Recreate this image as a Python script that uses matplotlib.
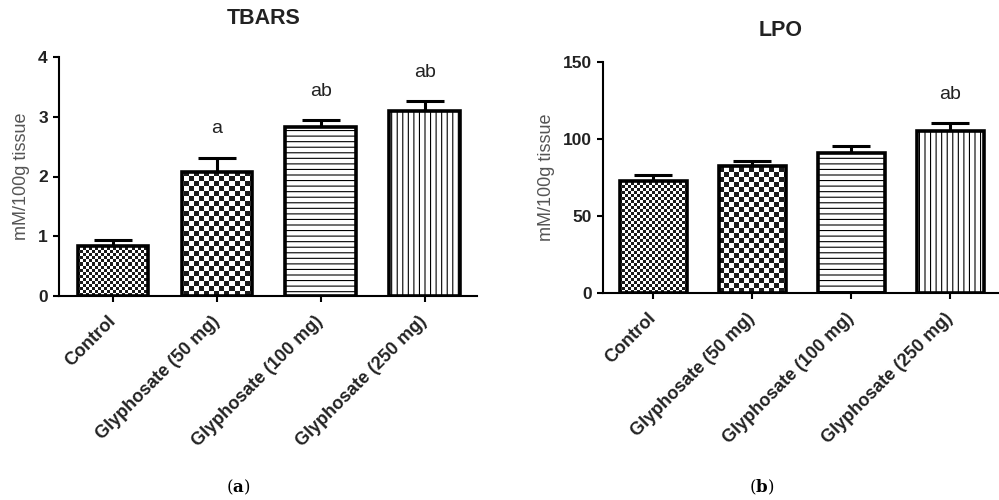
import numpy as np
import matplotlib
matplotlib.use("Agg")
import matplotlib.pyplot as plt
from matplotlib.colors import ListedColormap

# --- data ---
groups = ["Control", "Glyphosate (50 mg)", "Glyphosate (100 mg)", "Glyphosate (250 mg)"]

tbars_mean = [0.84, 2.07, 2.83, 3.09]
tbars_sem = [0.10, 0.24, 0.11, 0.17]
tbars_sig = ["", "a", "ab", "ab"]

lpo_mean = [72.7, 82.5, 90.9, 105.5]
lpo_sem = [3.9, 3.2, 4.5, 4.6]
lpo_sig = ["", "", "", "ab"]

# fill per group: checker cell size in px, or a hatch string
FILLS = [("checker", 3), ("checker", 5), ("hatch", "---"), ("hatch", "|||")]

plt.rcParams.update({
    "font.family": ["Liberation Sans", "DejaVu Sans"],
    "mathtext.fontset": "dejavuserif",
    "hatch.linewidth": 0.8,
    "axes.linewidth": 1.5,
    "xtick.major.width": 1.5,
    "ytick.major.width": 1.5,
    "xtick.major.size": 4.5,
    "ytick.major.size": 4.5,
})

CHECK_CMAP = ListedColormap(["white", "#1a1a1a"])


def checker(ax, cell):
    bb = ax.get_window_extent()
    w, h = int(round(bb.width)), int(round(bb.height))
    yy, xx = np.mgrid[0:h, 0:w]
    return (xx // cell + yy // cell) % 2


def panel(ax, means, sems, sig, title, ylim, yticks, xlim, title_x, title_pad):
    x = np.arange(len(groups))
    ax.errorbar(x, means, yerr=[np.zeros(len(sems)), sems], fmt="none",
                ecolor="black", elinewidth=2.2, capsize=13.5, capthick=2.2, zorder=1)
    bars = ax.bar(x, means, width=0.68, edgecolor="black", linewidth=2.6,
                  facecolor="white", zorder=3)
    for bar, (kind, spec) in zip(bars, FILLS):
        if kind == "hatch":
            bar.set_hatch(spec)
        else:
            bar.set_facecolor("none")
            im = ax.imshow(checker(ax, spec), cmap=CHECK_CMAP, interpolation="nearest",
                           extent=(0, 1, 0, 1), transform=ax.transAxes,
                           aspect="auto", zorder=2, origin="lower")
            im.set_clip_path(bar)

    for xi, m, s, lab in zip(x, means, sems, sig):
        if lab:
            ax.annotate(lab, xy=(xi, m + s), xytext=(0, 21), textcoords="offset points",
                        ha="center", va="center", fontsize=14, color="#222222")

    ax.set_xlim(*xlim)
    ax.set_ylim(*ylim)
    ax.set_yticks(yticks)
    ax.set_xticks(x)
    ax.set_xticklabels(groups, rotation=45, ha="right", va="center",
                       rotation_mode="anchor", fontsize=13, fontweight="bold",
                       color="#222222")
    ax.tick_params(axis="x", pad=12)
    ax.tick_params(axis="y", labelsize=12.5)
    for t in ax.get_yticklabels():
        t.set_fontweight("bold")
        t.set_color("#222222")
    ax.spines["top"].set_visible(False)
    ax.spines["right"].set_visible(False)
    ax.set_ylabel("mM/100g tissue", fontsize=13, color="#555555", labelpad=6)
    ax.set_title(title, fontsize=15.5, fontweight="bold", color="#222222",
                 x=title_x, pad=title_pad)


fig = plt.figure(figsize=(9.99, 5.0), dpi=100)
ax_a = fig.add_axes([0.059, 0.408, 0.418, 0.478])
ax_b = fig.add_axes([0.604, 0.414, 0.395, 0.462])

panel(ax_a, tbars_mean, tbars_sem, tbars_sig, "TBARS", (0, 4), [0, 1, 2, 3, 4],
      (-0.52, 3.50), 0.49, 24)
panel(ax_b, lpo_mean, lpo_sem, lpo_sig, "LPO", (0, 150), [0, 50, 100, 150],
      (-0.505, 3.48), 0.448, 19)

fig.text(0.238, 0.026, r"($\mathbf{a}$)", ha="center", va="center",
         fontsize=12, family="DejaVu Serif")
fig.text(0.762, 0.026, r"($\mathbf{b}$)", ha="center", va="center",
         fontsize=12, family="DejaVu Serif")

fig.savefig("out.png", dpi=100, facecolor="white")
